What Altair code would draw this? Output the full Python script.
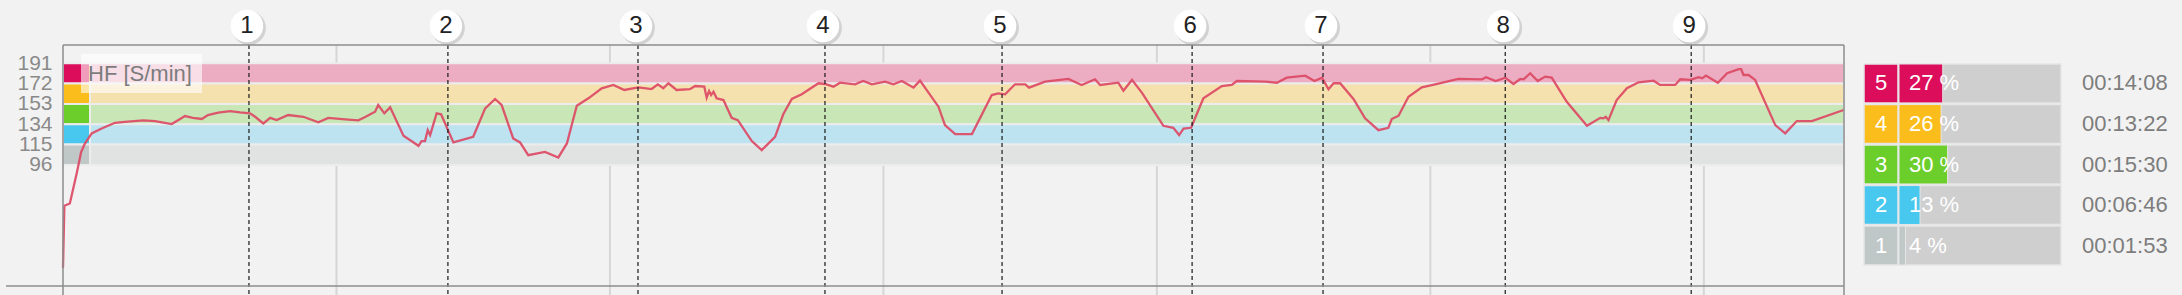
import altair as alt
import pandas as pd

# ---------------- data ----------------
time_min = [0.00, 0.04, 0.20, 0.40, 0.53, 0.64, 0.84, 1.13, 1.52, 1.81,
            2.35, 2.69, 3.18, 3.57, 3.80, 4.06, 4.24, 4.54, 4.89, 5.18,
            5.47, 5.62, 5.86, 6.06, 6.25, 6.59, 7.03, 7.47, 7.76, 8.25,
            8.64, 8.84, 9.13, 9.22, 9.40, 9.57, 9.96, 10.40, 10.49, 10.59,
            10.67, 10.74, 10.93, 11.06, 11.42, 12.00, 12.35, 12.64, 12.83, 13.17,
            13.37, 13.61, 14.10, 14.49, 14.74, 15.03, 15.37, 15.76, 16.10, 16.42,
            16.83, 17.22, 17.40, 17.56, 17.71, 17.95, 18.34, 18.49, 18.76, 18.83,
            18.90, 18.96, 19.03, 19.12, 19.32, 19.56, 19.74, 20.15, 20.44, 20.83,
            21.07, 21.32, 21.61, 22.10, 22.29, 22.54, 22.73, 23.17, 23.41, 23.66,
            24.05, 24.29, 24.54, 24.88, 25.07, 25.61, 25.80, 26.10, 26.59, 27.17,
            27.36, 27.56, 27.85, 28.15, 28.26, 28.73, 29.41, 29.80, 30.19, 30.34,
            30.87, 31.02, 31.27, 31.56, 32.19, 32.48, 32.65, 32.78, 33.00, 33.36,
            33.90, 34.19, 34.34, 35.17, 35.51, 35.80, 36.34, 36.61, 36.83, 37.02,
            37.17, 37.36, 37.75, 38.09, 38.48, 38.77, 38.87, 39.07, 39.36, 39.75,
            40.14, 40.82, 41.51, 41.63, 41.91, 42.19, 42.43, 42.63, 42.73, 42.92,
            43.14, 43.36, 43.55, 43.99, 44.58, 44.97, 45.06, 45.13, 45.21, 45.45,
            45.75, 46.09, 46.53, 46.72, 47.16, 47.31, 47.60, 47.85, 47.95, 48.06,
            48.41, 48.68, 49.02, 49.09, 49.16, 49.31, 49.50, 50.09, 50.38, 50.72,
            51.16, 52.09]

hf_bpm = [0, 58, 60, 88, 108, 116, 125.5, 130, 135.4, 136.3,
          137.6, 137, 134.2, 141.7, 140, 138.9, 142.6, 144.8, 146.3, 145,
          144.2, 141, 134.8, 140, 137.9, 142.6, 141, 135.8, 140, 138.6,
          137.6, 140.7, 145.7, 152, 144.2, 149.8, 123.2, 113.9, 118.3, 118.3,
          128.5, 123.9, 144.2, 143.3, 117, 122.3, 148.9, 157.6, 152, 120.8,
          117, 105.1, 108.2, 103, 116.1, 151.3, 158.2, 167.6, 170.7, 166,
          168.5, 166.9, 171.3, 167.6, 172.3, 166, 166.7, 169.7, 169.1, 158.8,
          165, 161.3, 164.4, 158.2, 156.6, 140, 137.9, 118.3, 109.8, 122.3,
          143.3, 157.6, 162, 172.3, 171.6, 169.1, 172.8, 171.3, 174.4, 171.3,
          173.8, 171.3, 174.4, 168.2, 174.7, 150.4, 133.2, 124.8, 124.8, 161.3,
          162.9, 162, 171.3, 171.3, 168.2, 173.8, 176.3, 170.7, 176, 170.7,
          172.8, 165.3, 175.4, 163.5, 132.6, 130.7, 123.9, 130, 130.7, 158.2,
          169.7, 170.7, 174.4, 173.8, 172.8, 177.5, 179.4, 174.4, 177.5, 166.7,
          172.3, 172.3, 157.6, 139.5, 128.5, 130.7, 138.9, 142, 159.7, 168.5,
          171.3, 176.3, 176, 177.9, 174.4, 177.5, 171.6, 176.3, 176, 181.6,
          174.4, 178.5, 177.5, 155, 132.6, 140, 139.5, 141, 137.9, 156.6,
          167.6, 173.2, 174.7, 170.7, 170.7, 176, 175.4, 177.9, 176.9, 179.4,
          172.8, 181.6, 185.4, 185.4, 180, 180, 175.4, 133.2, 125.5, 137,
          137, 147.3]

lap_min = [5.44, 11.26, 16.82, 22.29, 27.47, 33.03, 36.86, 42.19, 47.63]
lap_label = ["1", "2", "3", "4", "5", "6", "7", "8", "9"]
grid_min = [8, 16, 24, 32, 40, 48]

zone_id = ["5", "4", "3", "2", "1"]
zone_lo = [172, 153, 134, 115, 96]
zone_hi = [191, 172, 153, 134, 115]
zone_color = ["#dc0d5a", "#fbbd1c", "#6cce2a", "#48c8ef", "#c0c7c7"]
zone_pale = ["#ecadc3", "#f5e1ae", "#c9e6b7", "#bee3f0", "#e1e3e2"]
zone_pct = [27, 26, 30, 13, 4]
zone_time = ["00:14:08", "00:13:22", "00:15:30", "00:06:46", "00:01:53"]
y_ticks = [96, 115, 134, 153, 172, 191]

X_DOMAIN = [0, 52.1]
Y_DOMAIN = [-17, 208]
FONT = "Liberation Sans"
W, H = 1781, 241

# ---------------- frames ----------------
hf_df = pd.DataFrame({"t": time_min, "hf": hf_bpm})
lap_df = pd.DataFrame({"t": lap_min, "lap": lap_label})
grid_df = pd.DataFrame({"t": grid_min})
zone_df = pd.DataFrame({
    "zone": zone_id, "lo": zone_lo, "hi": zone_hi,
    "solid": zone_color, "pale": zone_pale,
    "pct": zone_pct, "time": zone_time,
})
zone_df["pct_label"] = zone_df["pct"].astype(str) + " %"
zone_df["start"] = 0
zone_df["full"] = 100

xs = alt.Scale(domain=X_DOMAIN, nice=False, zero=False)
ys = alt.Scale(domain=Y_DOMAIN, nice=False, zero=False)
y_axis = alt.Axis(values=y_ticks, labelFontSize=21, labelFont=FONT,
                  labelColor="#8a8a8a", ticks=False, domain=False,
                  grid=False, labelPadding=11, labelOverlap=False,
                  labelBound=False, title=None)

grid = alt.Chart(grid_df).mark_rule(color="#d6d6d6", strokeWidth=2).encode(
    x=alt.X("t:Q", scale=xs, axis=None),
    y=alt.value(0), y2=alt.value(250),
)

bands = alt.Chart(zone_df).mark_rect(stroke="#ececec", strokeWidth=2).encode(
    x=alt.value(0), x2=alt.value(W),
    y=alt.Y("lo:Q", scale=ys, axis=y_axis, title=None), y2="hi:Q",
    color=alt.Color("pale:N", scale=None),
)

squares = alt.Chart(zone_df).mark_rect(stroke="#ececec", strokeWidth=2).encode(
    x=alt.value(0), x2=alt.value(27),
    y=alt.Y("lo:Q", scale=ys, axis=y_axis, title=None), y2="hi:Q",
    color=alt.Color("solid:N", scale=None),
)

label_box = alt.Chart(pd.DataFrame({"k": [0]})).mark_rect(
    color="white", opacity=0.6
).encode(x=alt.value(18), x2=alt.value(139), y=alt.value(9), y2=alt.value(48))

label_txt = alt.Chart(pd.DataFrame({"k": ["HF [S/min]"]})).mark_text(
    align="left", baseline="middle", font=FONT, fontSize=22, color="#7c7c7c"
).encode(x=alt.value(25), y=alt.value(29), text="k:N")

line = alt.Chart(hf_df).mark_line(color="#dc4964", strokeWidth=2.3, opacity=0.92).encode(
    x=alt.X("t:Q", scale=xs, axis=None),
    y=alt.Y("hf:Q", scale=ys, axis=y_axis, title=None),
)

lap_rules = alt.Chart(lap_df).mark_rule(
    color="#1a1a1a", strokeWidth=1.2, strokeDash=[4, 3]
).encode(x=alt.X("t:Q", scale=xs, axis=None), y=alt.value(0), y2=alt.value(250))

lap_shadow = alt.Chart(lap_df).mark_circle(
    color="#000000", opacity=0.13, size=1150, yOffset=2
).encode(x=alt.X("t:Q", scale=xs, axis=None), y=alt.value(-19))

lap_circles = alt.Chart(lap_df).mark_circle(
    color="#ffffff", opacity=1, size=1060, xOffset=-2
).encode(x=alt.X("t:Q", scale=xs, axis=None), y=alt.value(-19))

lap_text = alt.Chart(lap_df).mark_text(
    font=FONT, fontSize=24, color="#222222", baseline="middle", align="center", dx=-2
).encode(x=alt.X("t:Q", scale=xs, axis=None), y=alt.value(-19), text="lap:N")

frame_col = "#8c8c8c"
one = pd.DataFrame({"k": [0]})
top_line = alt.Chart(one).mark_rule(color=frame_col, strokeWidth=1.5).encode(
    x=alt.value(0), x2=alt.value(W), y=alt.value(0))
left_line = alt.Chart(one).mark_rule(color=frame_col, strokeWidth=1.5).encode(
    x=alt.value(0), y=alt.value(0), y2=alt.value(250))
right_line = alt.Chart(one).mark_rule(color=frame_col, strokeWidth=1.5).encode(
    x=alt.value(W), y=alt.value(0), y2=alt.value(250))
bottom_line = alt.Chart(one).mark_rule(color=frame_col, strokeWidth=1.5).encode(
    x=alt.value(-57), x2=alt.value(W), y=alt.value(H))

main = alt.layer(grid, bands, squares, label_box, label_txt, line, lap_rules,
                 lap_shadow, lap_circles, lap_text,
                 top_line, left_line, right_line, bottom_line)

# ---------------- legend (zone table) ----------------
lx = alt.Scale(domain=[0, 100], range=[1836, 1998])
ly = alt.Scale(domain=zone_id, range=[19, 220], paddingInner=0.04, paddingOuter=0)

leg_bg = alt.Chart(zone_df).mark_rect(color="#cfcfcf", stroke="#e6e6e6", strokeWidth=1.5).encode(
    x=alt.X("start:Q", scale=lx, axis=None), x2="full:Q",
    y=alt.Y("zone:N", scale=ly, axis=None),
)
leg_bar = alt.Chart(zone_df).mark_rect(stroke="#e6e6e6", strokeWidth=1).encode(
    x=alt.X("start:Q", scale=lx, axis=None), x2="pct:Q",
    y=alt.Y("zone:N", scale=ly, axis=None),
    color=alt.Color("solid:N", scale=None),
)
leg_box = alt.Chart(zone_df).mark_rect(stroke="#e6e6e6", strokeWidth=1.5).encode(
    x=alt.value(1801), x2=alt.value(1835),
    y=alt.Y("zone:N", scale=ly, axis=None),
    color=alt.Color("solid:N", scale=None),
)
leg_num = alt.Chart(zone_df).mark_text(
    font=FONT, fontSize=22, color="white", align="center", baseline="middle"
).encode(x=alt.value(1818), y=alt.Y("zone:N", scale=ly, axis=None), text="zone:N")
leg_pct = alt.Chart(zone_df).mark_text(
    font=FONT, fontSize=22, color="white", align="left", baseline="middle"
).encode(x=alt.value(1846), y=alt.Y("zone:N", scale=ly, axis=None), text="pct_label:N")
leg_time = alt.Chart(zone_df).mark_text(
    font=FONT, fontSize=22, color="#7d7d7d", align="left", baseline="middle"
).encode(x=alt.value(2019), y=alt.Y("zone:N", scale=ly, axis=None), text="time:N")

legend = alt.layer(leg_bg, leg_bar, leg_box, leg_num, leg_pct, leg_time)

chart = alt.layer(main, legend).resolve_scale(
    x="independent", y="independent", color="independent"
).properties(
    width=W, height=H,
    autosize=alt.AutoSizeParams(type="none"),
    padding={"left": 63, "top": 45, "right": 338, "bottom": 9},
    background="#f2f2f2",
).configure_view(strokeWidth=0)

chart.save("out.html", embed_options={"renderer": "svg", "actions": False})
